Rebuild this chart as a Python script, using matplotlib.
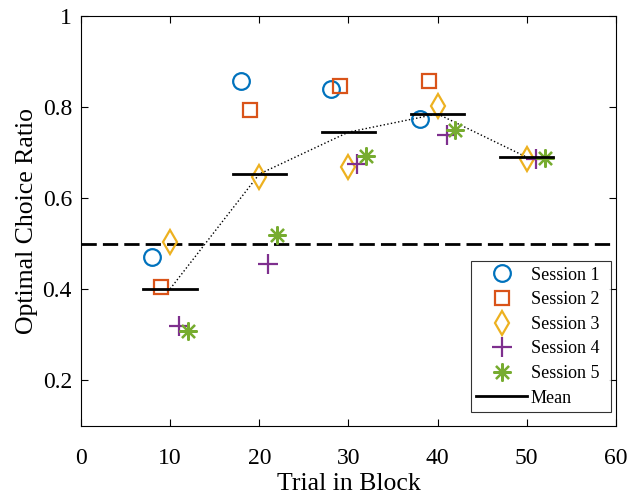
import numpy as np
import matplotlib.pyplot as plt

plt.rcParams['font.family'] = ['Liberation Serif', 'DejaVu Serif']

groups = np.array([10, 20, 30, 40, 50])
offsets = [-2, -1, 0, 1, 2]

# Optimal choice ratio per session (NaN = not shown)
session1 = [0.470, 0.857, 0.840, 0.774, np.nan]
session2 = [0.404, 0.793, 0.846, 0.857, np.nan]
session3 = [0.503, 0.646, 0.668, 0.802, 0.686]
session4 = [0.319, 0.455, 0.675, 0.738, 0.686]
session5 = [0.308, 0.519, 0.692, 0.749, 0.688]
means = [0.401, 0.653, 0.745, 0.785, 0.690]

sessions = [session1, session2, session3, session4, session5]
labels = ["Session 1", "Session 2", "Session 3", "Session 4", "Session 5"]
colors = ["#0072BD", "#D95319", "#EDB120", "#7E2F8E", "#77AC30"]
markers = ["o", "s", "d", "+", (8, 2, 0)]
sizes = [12, 9.5, 12.5, 14, 13]

fig = plt.figure(figsize=(6.3, 4.94), dpi=100)
ax = fig.add_axes([0.1286, 0.1377, 0.849, 0.830])

ax.axhline(0.5, color="black", linestyle=(0, (5.5, 2.2)), linewidth=2)
ax.plot(groups, means, color="black", linestyle=":", linewidth=1)

for s, lab, c, m, ms, off in zip(sessions, labels, colors, markers, sizes, offsets):
    ax.plot(groups + off, s, linestyle="none", marker=m, markersize=ms,
            markerfacecolor="none", markeredgecolor=c, markeredgewidth=1.6,
            label=lab)

for i, (g, mv) in enumerate(zip(groups, means)):
    ax.plot([g - 3, g + 3], [mv, mv], color="black", linewidth=2,
            label="Mean" if i == 0 else None)

ax.set_xlim(0, 60)
ax.set_ylim(0.1, 1)
ax.set_xticks([0, 10, 20, 30, 40, 50, 60])
ax.set_yticks([0.2, 0.4, 0.6, 0.8, 1])
ax.set_yticklabels(["0.2", "0.4", "0.6", "0.8", "1"])
ax.tick_params(direction="in", labelsize=17, top=True, right=True, length=5,
               width=0.8)
ax.tick_params(axis="x", pad=16)
ax.tick_params(axis="y", pad=6.5)
for sp in ax.spines.values():
    sp.set_linewidth(0.8)
ax.set_xlabel("Trial in Block", fontsize=18.5, labelpad=3)
ax.set_ylabel("Optimal Choice Ratio", fontsize=18.5, labelpad=3)

leg = ax.legend(loc="lower left", fontsize=13, frameon=True, fancybox=False,
                edgecolor="black", handlelength=2.8, borderpad=0.3,
                labelspacing=0.42, handletextpad=0.2, borderaxespad=0,
                mode="expand", bbox_to_anchor=(0.729, 0.034, 0.2617, 0.3))
leg.get_frame().set_linewidth(0.8)

plt.savefig("out.png", dpi=100)
